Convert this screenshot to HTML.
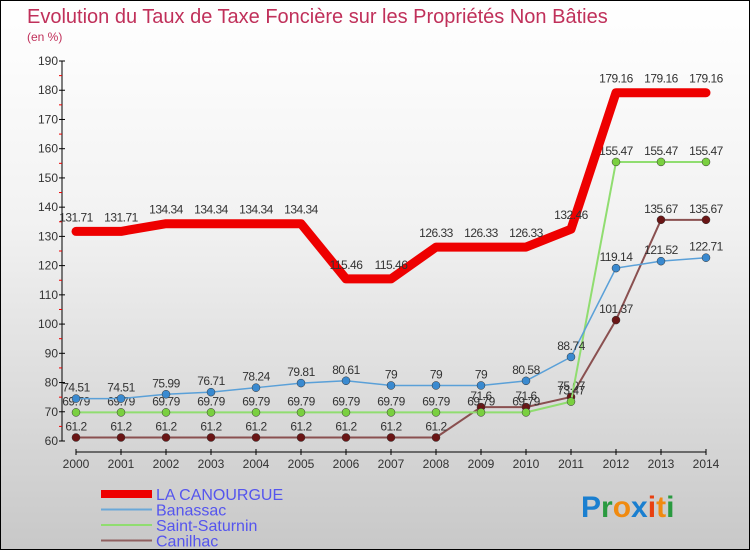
<!DOCTYPE html>
<html><head><meta charset="utf-8"><style>
body{margin:0}
#wrap{position:relative;width:748px;height:548px;border:1px solid #000;background:linear-gradient(#fff,#f2f2f2 40%,#c8c8c8);font-family:"Liberation Sans",sans-serif;overflow:hidden}
</style></head><body>
<div id="wrap">
<svg id="svg" width="748" height="548" xmlns="http://www.w3.org/2000/svg">
<text x="26" y="22" font-size="20" fill="#c0305a" font-weight="300">Evolution du Taux de Taxe Foncière sur les Propriétés Non Bâties</text>
<text x="26" y="40" font-size="12" fill="#c0305a">(en %)</text>
<g id="g"></g>
<text x="580" y="516" font-size="30" font-weight="bold"><tspan fill="#1a7fd0">P</tspan><tspan fill="#2a9a40">r</tspan><tspan fill="#f08a10">o</tspan><tspan fill="#1a7fd0">x</tspan><tspan fill="#e84010">i</tspan><tspan fill="#f08a10">t</tspan><tspan fill="#2a9a40">i</tspan></text>
</svg></div>
<script>
const years=[2000,2001,2002,2003,2004,2005,2006,2007,2008,2009,2010,2011,2012,2013,2014];
const yTicks=[60,70,80,90,100,110,120,130,140,150,160,170,180,190];
const canourgue=[131.71,131.71,134.34,134.34,134.34,134.34,115.46,115.46,126.33,126.33,126.33,132.46,179.16,179.16,179.16];
const banassac=[74.51,74.51,75.99,76.71,78.24,79.81,80.61,79,79,79,80.58,88.74,119.14,121.52,122.71];
const saturnin=[69.79,69.79,69.79,69.79,69.79,69.79,69.79,69.79,69.79,69.79,69.79,73.47,155.47,155.47,155.47];
const canilhac=[61.2,61.2,61.2,61.2,61.2,61.2,61.2,61.2,61.2,71.6,71.6,75.07,101.37,135.67,135.67];
const names=["LA CANOURGUE","Banassac","Saint-Saturnin","Canilhac"];
const NS="http://www.w3.org/2000/svg";
const g=document.getElementById('g');
const X=i=>75+i*45.0, Y=v=>440-(v-60)*2.923;
function mk(t,a){const e=document.createElementNS(NS,t);for(const k in a)e.setAttribute(k,a[k]);g.appendChild(e);return e;}
let e=mk('line',{x1:61,y1:Y(190),x2:61,y2:Y(60),stroke:'#000'});

e=mk('line',{x1:75,y1:451,x2:X(14),y2:451,stroke:'#000'});

yTicks.forEach(v=>{mk('line',{x1:58,x2:64,y1:Y(v),y2:Y(v),stroke:'#000'});
 if(v<190)mk('line',{x1:58,x2:61,y1:Y(v+5),y2:Y(v+5),stroke:'#e00'});
 e=mk('text',{x:57,y:Y(v)+4,'font-size':12,'text-anchor':'end',fill:'#333'});e.textContent=v;
 });
years.forEach((yr,i)=>{mk('line',{x1:X(i),x2:X(i),y1:448,y2:454,stroke:'#000'});
 e=mk('text',{x:X(i),y:467,'font-size':12,'text-anchor':'middle',fill:'#333'});e.textContent=yr;
 });
const series=[[canilhac,'#8a5050','#6a1515',2],[saturnin,'#90dd70','#7ad040',2],[banassac,'#5aa0d8','#3a8ad0',1.5],[canourgue,'#ee0000',null,9]];
series.forEach(([d,c,pc,w],si)=>{
 e=mk('polyline',{points:d.map((v,i)=>X(i)+','+Y(v)).join(' '),fill:'none',stroke:c,'stroke-width':w,'stroke-linejoin':'round','stroke-linecap':'round'});
 
 d.forEach((v,i)=>{ if(pc){e=mk('circle',{cx:X(i),cy:Y(v),r:4,fill:pc,stroke:'#333','stroke-width':0.5});
  }
  e=mk('text',{x:X(i),y:Y(v)-(si==3?10:7),'font-size':12,'text-anchor':'middle',fill:'#333','letter-spacing':'-0.5'});e.textContent=v;
  });
});
const lc=['#ee0000','#6aa8d8','#90dd70','#906060'],lw=[8,2,2,2];
names.forEach((n,i)=>{const y=493+i*15.5;
 e=mk('line',{x1:100,x2:151,y1:y,y2:y,stroke:lc[i],'stroke-width':lw[i]});
 
 e=mk('text',{x:155,y:y+6,'font-size':16,fill:'#5555ee'});e.textContent=n;
 });
</script>
</body></html>
